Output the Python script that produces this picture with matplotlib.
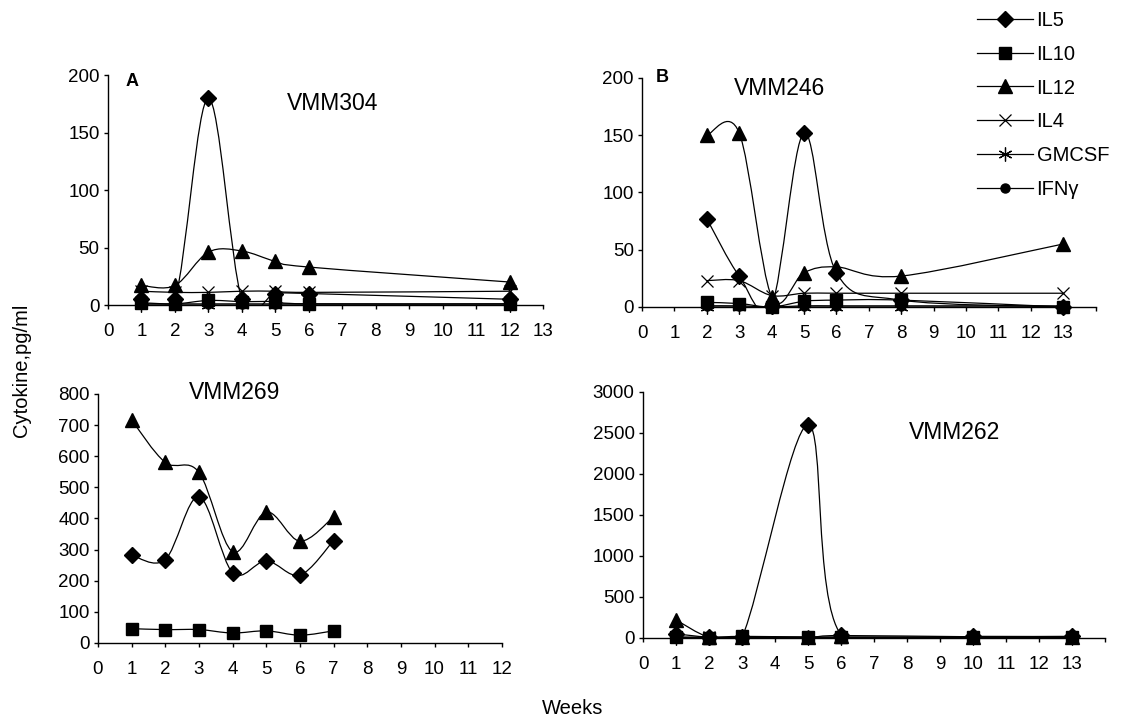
import numpy as np
import matplotlib
matplotlib.use("Agg")
import matplotlib.pyplot as plt
from matplotlib.path import Path
from matplotlib.patches import PathPatch
from matplotlib.lines import Line2D

plt.rcParams['font.family'] = ['Liberation Sans', 'DejaVu Sans']
plt.rcParams['font.size'] = 13.5

# ---------------------------------------------------------------------------
# Data

cytokines = ['IL5', 'IL10', 'IL12', 'IL4', 'GMCSF', 'IFN\u03b3']

# A: VMM304
weeks_304 = [1, 2, 3, 4, 5, 6, 12]
vmm304 = {
    'IL5':   [5, 5, 180, 5, 10, 10, 5],
    'IL10':  [2, 1, 4, 3, 3, 1, 1],
    'IL12':  [17, 17, 46, 47, 38, 33, 20],
    'IL4':   [12, 11, 11, 12, 12, 11, 12],
    'GMCSF': [0, 0, 0, 0, 0, 0, 0],
    'IFN\u03b3': [1, 1, 1, 1, 1, 1, 1],
}

# B: VMM246
weeks_246 = [2, 3, 4, 5, 6, 8, 13]
vmm246 = {
    'IL5':   [77, 27, 1, 152, 30, 6, 0],
    'IL10':  [4, 3, 0, 5, 6, 6, 0],
    'IL12':  [150, 152, 9, 30, 35, 27, 55],
    'IL4':   [23, 23, 10, 12, 12, 12, 12],
    'GMCSF': [0, 0, 0, 0, 0, 0, 0],
    'IFN\u03b3': [1, 1, 0, 1, 1, 1, 1],
}

# C: VMM269
weeks_269 = [1, 2, 3, 4, 5, 6, 7]
vmm269 = {
    'IL5':  [282, 268, 470, 226, 264, 218, 329],
    'IL10': [46, 43, 43, 32, 39, 25, 39],
    'IL12': [716, 580, 548, 293, 421, 327, 405],
}

# D: VMM262
weeks_262 = [1, 2, 3, 5, 6, 10, 13]
vmm262 = {
    'IL5':   [50, 10, 10, 2600, 40, 20, 20],
    'IL10':  [10, 5, 20, 10, 10, 10, 10],
    'IL12':  [220, 10, 10, 10, 30, 15, 15],
    'IL4':   [10, 10, 10, 10, 10, 10, 10],
    'GMCSF': [0, 0, 0, 0, 0, 0, 0],
    'IFN\u03b3': [5, 5, 5, 5, 5, 5, 5],
}

# ---------------------------------------------------------------------------
# Styles

asterisk = (6, 2, 0)
styles = {
    'IL5':   dict(marker='D', ms=8),
    'IL10':  dict(marker='s', ms=8.5),
    'IL12':  dict(marker='^', ms=9.5),
    'IL4':   dict(marker='x', ms=8.5, mew=0.9),
    'GMCSF': dict(marker=asterisk, ms=10, mew=0.9),
    'IFN\u03b3': dict(marker='o', ms=6.5),
}


def smooth_line(ax, x, y):
    """Excel-like smoothed line drawn as cubic Bezier through the points"""
    p = np.column_stack([x, y]).astype(float)
    n = len(p)
    verts = [p[0]]
    codes = [Path.MOVETO]
    for i in range(n - 1):
        p0 = p[i - 1] if i > 0 else p[i]
        p1 = p[i]
        p2 = p[i + 1]
        p3 = p[i + 2] if i + 2 < n else p[i + 1]
        c1 = p1 + (p2 - p0) / 6.0
        c2 = p2 - (p3 - p1) / 6.0
        verts += [c1, c2, p2]
        codes += [Path.CURVE4] * 3
    ax.add_patch(PathPatch(Path(verts, codes), facecolor='none',
                           edgecolor='black', lw=0.9, zorder=2))


def draw_panel(ax, weeks, data, xmax, ymax, ystep, xlabels_to=None):
    for name in cytokines:
        if name not in data:
            continue
        smooth_line(ax, weeks, data[name])
        ax.plot(weeks, data[name], ls='none', color='black', mfc='black',
                mec='black', zorder=3, clip_on=False, **styles[name])
    ax.set_xlim(0, xmax)
    ax.set_ylim(0, ymax)
    ax.set_xticks(range(0, xmax + 1))
    top = xlabels_to if xlabels_to is not None else xmax
    ax.set_xticklabels([str(i) if i <= top else '' for i in range(0, xmax + 1)])
    ax.set_yticks(np.arange(0, ymax + 1, ystep))
    for s in ['top', 'right']:
        ax.spines[s].set_visible(False)
    for s in ['left', 'bottom']:
        ax.spines[s].set_linewidth(1.0)
    ax.tick_params(direction='out', length=3, width=1.0)
    ax.tick_params(axis='x', pad=10)
    ax.tick_params(axis='y', pad=3)
    ax.spines['bottom'].set_zorder(1)


fig = plt.figure(figsize=(11.25, 7.24), dpi=100)

axA = fig.add_axes([0.096, 0.5787, 0.3867, 0.3177])
axB = fig.add_axes([0.5707, 0.576, 0.4031, 0.3163])
axC = fig.add_axes([0.0871, 0.1119, 0.359, 0.344])
axD = fig.add_axes([0.5716, 0.1188, 0.4107, 0.3398])

draw_panel(axA, weeks_304, vmm304, 13, 200, 50)
draw_panel(axB, weeks_246, vmm246, 14, 200, 50, xlabels_to=13)
draw_panel(axC, weeks_269, vmm269, 12, 800, 100)
draw_panel(axD, weeks_262, vmm262, 14, 3000, 500, xlabels_to=13)

axA.text(0.055, 0.97, 'A', transform=axA.transAxes, fontweight='bold',
         ha='center', va='center', fontsize=13)
axA.text(0.517, 0.878, 'VMM304', transform=axA.transAxes, ha='center',
         va='center', fontsize=16.5)
axB.text(0.044, 1.0, 'B', transform=axB.transAxes, fontweight='bold',
         ha='center', va='center', fontsize=13)
axB.text(0.304, 0.956, 'VMM246', transform=axB.transAxes, ha='center',
         va='center', fontsize=16.5)
axC.text(0.339, 1.004, 'VMM269', transform=axC.transAxes, ha='center',
         va='center', fontsize=16.5)
axD.text(0.675, 0.837, 'VMM262', transform=axD.transAxes, ha='center',
         va='center', fontsize=16.5)

fig.text(22 / 1125, 1 - 370 / 724, 'Cytokine,pg/ml', rotation=90,
         ha='center', va='center', fontsize=14.5)
fig.text(573 / 1125, 1 - 708 / 724, 'Weeks', ha='center', va='center',
         fontsize=14.5)

handles = [Line2D([], [], color='black', lw=0.9, mfc='black', mec='black',
                  **styles[n]) for n in cytokines]
fig.legend(handles, cytokines, loc='upper left',
           bbox_to_anchor=(963 / 1125, 1 + 3 / 724), frameon=False,
           handlelength=2.8, handletextpad=0.15, labelspacing=0.73,
           fontsize=14.5, borderpad=0.2)

fig.savefig('out.png', dpi=100)
